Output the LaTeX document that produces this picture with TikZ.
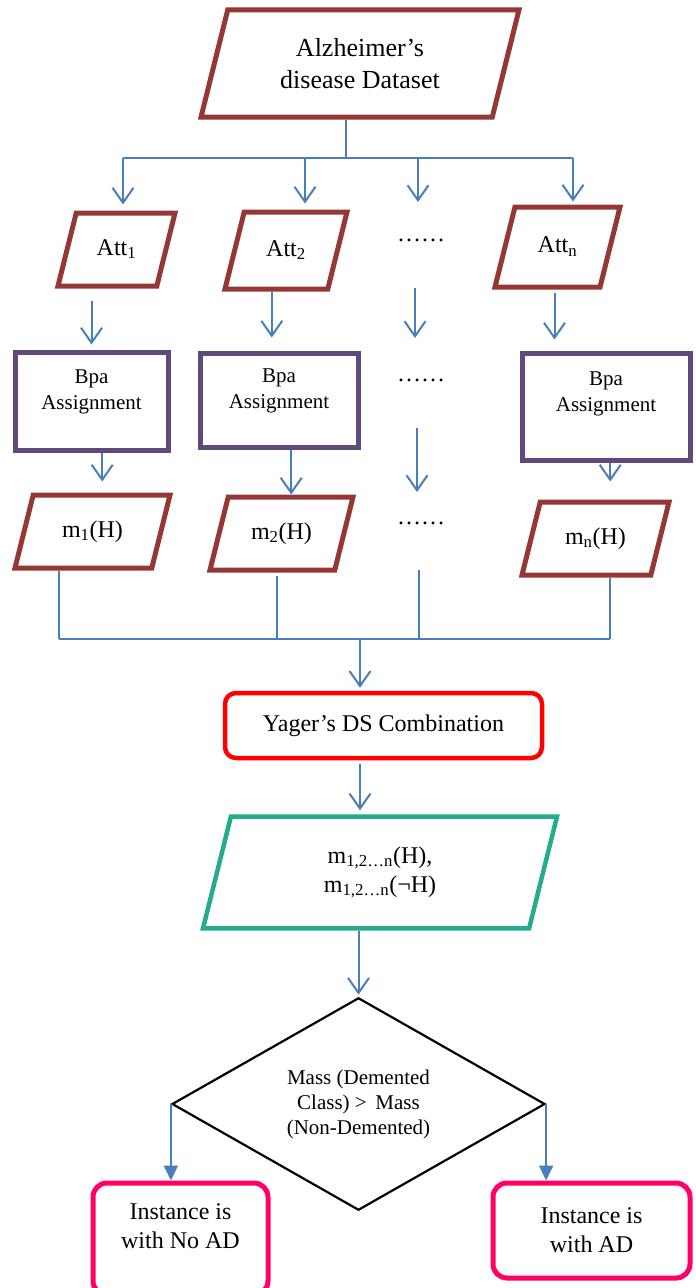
\documentclass[tikz,border=0pt]{standalone}
\usepackage{fontspec}
\setmainfont{Liberation Serif}
\usetikzlibrary{shapes.geometric,calc,arrows.meta}

\definecolor{datared}{RGB}{149,55,53}
\definecolor{bpapurple}{RGB}{96,74,123}
\definecolor{linkblue}{RGB}{74,126,187}
\definecolor{combgreen}{RGB}{38,171,140}
\definecolor{outpink}{RGB}{255,0,102}

\begin{document}
\begin{tikzpicture}[x=1pt,y=-1pt,
  iobox/.style={trapezium, trapezium left angle=76, trapezium right angle=104,
    trapezium stretches body, draw=datared, line width=5pt, inner xsep=0pt,
    align=center, font=\fontsize{24}{29}\selectfont},
  oneline/.style={text height=17pt, text depth=6pt, inner ysep=#1},
  bpabox/.style={rectangle, draw=bpapurple, line width=5pt, inner sep=0pt,
    align=center, text depth=22pt, font=\fontsize{21}{26}\selectfont},
  endbox/.style={rectangle, rounded corners=14pt, draw=outpink, line width=5pt,
    inner sep=0pt, align=center, font=\fontsize{24}{29}\selectfont},
  dotsnode/.style={inner sep=0pt, font=\fontsize{24}{29}\selectfont},
  link/.style={draw=linkblue, line width=2pt},
  flow/.style={link, -{Straight Barb[length=15pt,width=21pt]}},
  tri/.style={link, -{Triangle[length=15pt,width=14pt]}}]

\useasboundingbox (0,0) rectangle (696,1288);

% inputs
\node[iobox, minimum width=318pt, inner ysep=28.5pt, font=\fontsize{26}{32}\selectfont]
  (data) at (360,63.5) {Alzheimer’s\\disease Dataset};
\node[iobox, oneline=25pt, minimum width=117pt] (att1) at (116.5,249.5) {Att\textsubscript{1}};
\node[iobox, oneline=27pt, minimum width=122pt] (att2) at (286,250.5) {Att\textsubscript{2}};
\node[iobox, oneline=28.5pt, minimum width=125pt] (attn) at (557.5,247) {Att\textsubscript{n}};
\node[dotsnode] (dots1) at (421,240) {……};

% bpa
\node[bpabox, minimum width=153pt, minimum height=98pt] (bpa1) at (91.5,401) {Bpa\\Assignment};
\node[bpabox, minimum width=158pt, minimum height=94pt] (bpa2) at (279,400) {Bpa\\Assignment};
\node[bpabox, minimum width=168pt, minimum height=107pt, text depth=30pt] (bpan) at (606,406.5) {Bpa\\Assignment};
\node[dotsnode] (dots2) at (421,380) {……};

% masses
\node[iobox, oneline=25pt, minimum width=155pt] (m1) at (92.5,531.5) {m\textsubscript{1}(H)};
\node[iobox, oneline=25pt, minimum width=143pt] (m2) at (281.5,533.5) {m\textsubscript{2}(H)};
\node[iobox, oneline=25pt, minimum width=147pt] (mn) at (595.5,538.5) {m\textsubscript{n}(H)};
\node[dotsnode] (dots3) at (421,523) {……};

% combination
\node[rectangle, rounded corners=11pt, draw=red, line width=4.5pt, minimum width=317pt,
  minimum height=65pt, font=\fontsize{24}{29}\selectfont] (yager) at (383.5,725.5) {Yager’s DS Combination};
\node[iobox, draw=combgreen, line width=4.5pt, minimum width=354pt, inner ysep=30pt]
  (comb) at (380,872.5) {m\textsubscript{1,2…n}(H),\\m\textsubscript{1,2…n}(¬H)};

% decision
\node[diamond, draw=black, line width=2.2pt, inner sep=0pt, minimum width=373pt, minimum height=198pt,
  align=center, font=\fontsize{21}{25}\selectfont] (dec) at (358.5,1104)
  {Mass (Demented\\Class) >\, Mass\\(Non-Demented)};
\node[endbox, minimum width=175pt, minimum height=112pt, text depth=26pt] (noad) at (180.5,1239) {Instance is\\with No AD};
\node[endbox, minimum width=197pt, minimum height=95pt] (withad) at (591.5,1230.5) {Instance is\\with AD};

% split bus
\coordinate (splitL) at (123,158);
\coordinate (splitB) at (305,158);
\coordinate (splitC) at (418,158);
\coordinate (splitR) at (573,158);
\draw[link] (data.bottom side) -- (data.bottom side |- splitL);
\draw[link] (splitL) -- (splitR);
\draw[flow, shorten >=6pt] (splitL) -- (splitL |- att1.north);
\draw[flow, shorten >=6pt] (splitB) -- (splitB |- att2.north);
\draw[flow] (splitC) -- ++(0,44);
\draw[flow, shorten >=3pt] (splitR) -- (splitR |- attn.north);

% to bpa
\draw[flow, shorten >=5pt] ($(att1.south -| bpa1.north)+(0,12)$) -- (bpa1.north);
\draw[flow, shorten >=13pt] ($(att2.bottom side)+(-4,0)$) -- ($(att2.bottom side |- bpa2.north)+(-4,0)$);
\draw[flow, shorten >=11pt] ($(attn.south)+(-3,3)$) -- ($(attn.south |- bpan.north)+(-3,0)$);
\draw[flow] ($(dots1)+(-6,48)$) -- ($(dots2)+(-6,-42)$);

% to masses
\draw[flow, shorten >=11pt] (bpa1.south -| m1.top side) -- (m1.top side);
\draw[flow] (bpa2.south -| m2.top side) -- (m2.top side);
\draw[flow, shorten >=18pt] ($(bpan.south -| mn.top side)+(5,0)$) -- ($(mn.top side)+(5,0)$);
\draw[flow] ($(dots2)+(-4,48)$) -- ($(dots3)+(-4,-31)$);

% join bus
\coordinate (joinL) at (59,639);
\coordinate (joinM) at (360,639);
\coordinate (joinR) at (610,639);
\draw[link] (m1.south -| joinL) -- (joinL);
\draw[link] ($(m2.bottom side)+(5,3)$) -- ($(m2.bottom side |- joinL)+(5,0)$);
\draw[link] ($(dots3)+(-2,47)$) -- ($(dots3 |- joinL)+(-2,0)$);
\draw[link] (mn.south -| joinR) -- (joinR);
\draw[link] (joinL) -- (joinR);
\draw[flow, shorten >=3pt] (joinM) -- (joinM |- yager.north);
\draw[flow, shorten >=4pt] ($(yager.south -| joinM)+(0,4)$) -- (joinM |- comb.north);
\draw[flow, shorten >=2pt] (dec.north |- comb.south) -- (dec.north);

% outcomes
\draw[tri] (dec.west) -- (dec.west |- noad.north);
\draw[tri] (dec.east) -- (dec.east |- withad.north);

\end{tikzpicture}
\end{document}
